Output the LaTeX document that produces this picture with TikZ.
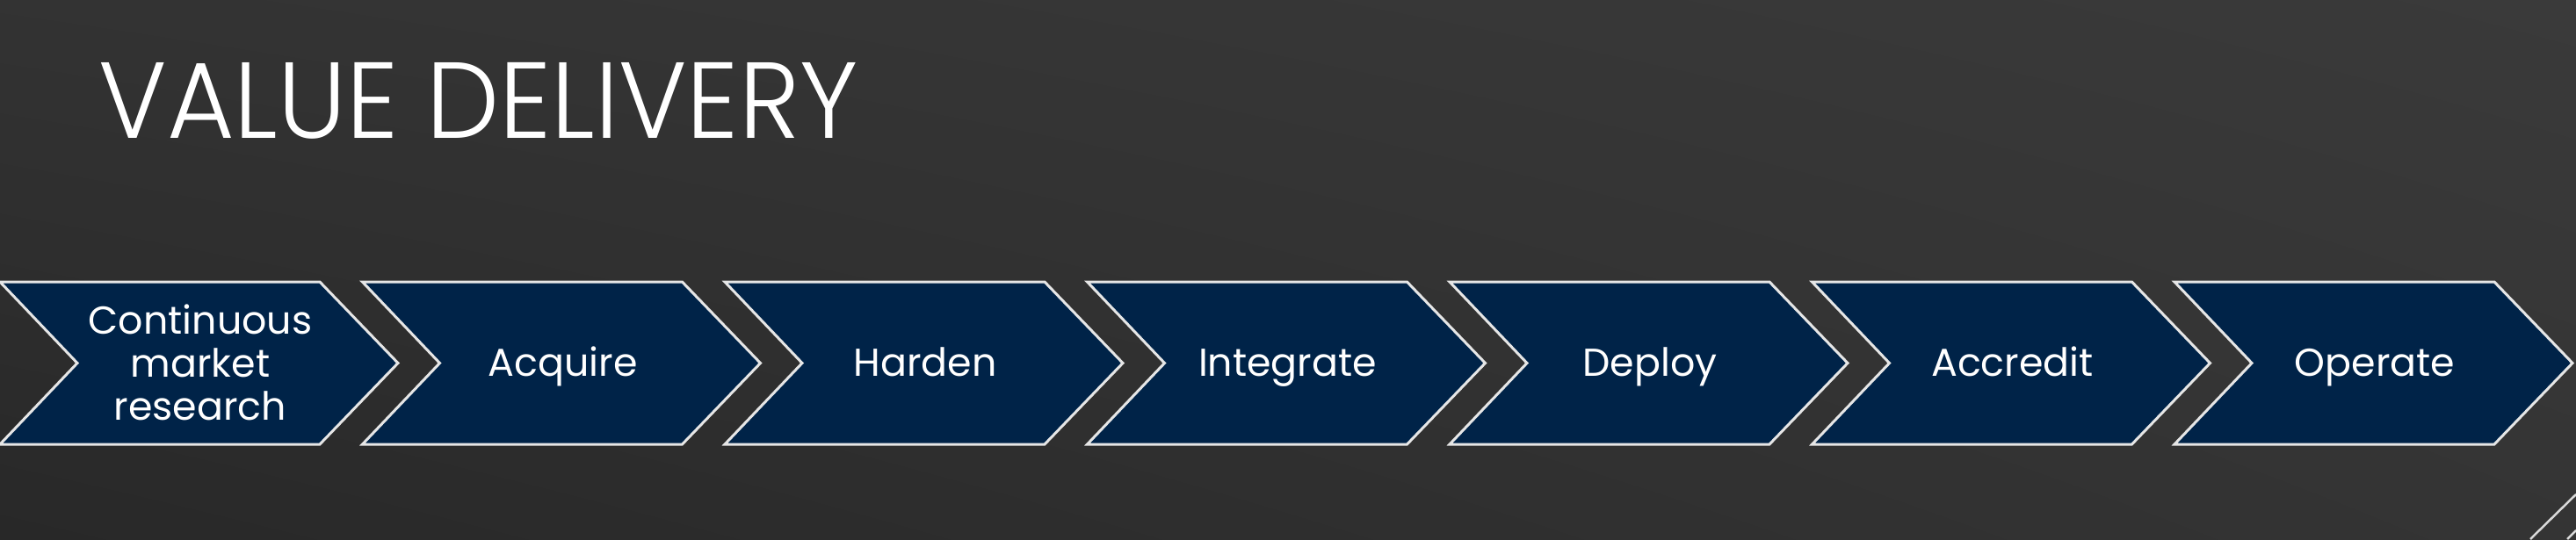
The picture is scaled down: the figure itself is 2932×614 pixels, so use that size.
\documentclass[tikz,border=0pt]{standalone}
\usepackage{fontspec}
\usetikzlibrary{shadings}
\setmainfont{Poppins}
\newfontfamily\titlefont{Poppins Light}
\definecolor{navy}{HTML}{002348}
\definecolor{edge}{HTML}{E6E6E6}
\definecolor{bgleft}{HTML}{282828}
\definecolor{bgright}{HTML}{3A3A3A}
\tikzset{
  chev/.style={fill=navy, draw=edge, line width=0.03cm, line join=miter},
  chevtext/.style={text=white, font=\fontsize{12.6}{13.9}\selectfont, align=center, inner sep=0pt},
  deco/.style={draw=white!85!black, line width=0.025cm}
}
\begin{document}
\begin{tikzpicture}[x=0.01cm,y=-0.01cm]
\useasboundingbox (0,0) rectangle (2932,614);
\shade[upper left=bgleft!95!white, lower left=bgleft, upper right=bgright, lower right=bgright!90!black] (0,0) rectangle (2932,614);
\node[anchor=base west, text=white, inner sep=0pt, xscale=0.956, font=\titlefont\fontsize{35}{40}\selectfont] (title) at (112,157) {VALUE DELIVERY};
\foreach \i in {0,...,6}{
  \pgfmathsetmacro{\L}{412.5*\i}
  \draw[chev] (\L,321) -- (\L+364,321) -- (\L+453,413.5) -- (\L+364,506) -- (\L,506) -- (\L+88,413.5) -- cycle;
}
\node[chevtext, anchor=center] (c1) at (228,413) {Continuous\\market\\research};
\foreach \i/\name/\txt in {1/c2/Acquire,2/c3/Harden,3/c4/Integrate,4/c5/Deploy,5/c6/Accredit,6/c7/Operate}{
  \pgfmathsetmacro{\L}{412.5*\i}
  \node[chevtext, anchor=base] (\name) at (\L+228,428) {\txt};
}
\coordinate (d1a) at (2880,614);
\coordinate (d1b) at (2932,563);
\coordinate (d2a) at (2922,614);
\coordinate (d2b) at (2932,604);
\draw[deco] (d1a) -- (d1b);
\draw[deco] (d2a) -- (d2b);
\end{tikzpicture}
\end{document}
